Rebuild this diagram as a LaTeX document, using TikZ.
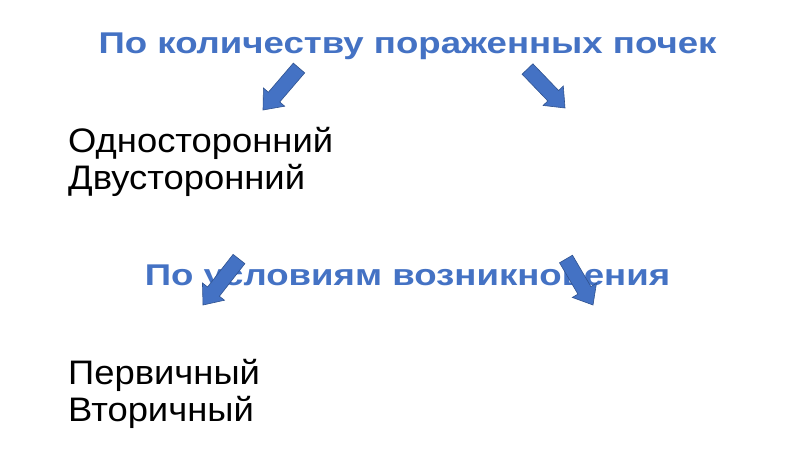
\documentclass[tikz,border=0pt]{standalone}
\usepackage{fontspec}
\setmainfont{Liberation Sans}
\newfontfamily\titlefont[FakeStretch=1.22]{Liberation Sans Bold}
\newfontfamily\bodyfont[FakeStretch=1.07]{Liberation Sans}
\usetikzlibrary{calc}
\definecolor{accent}{HTML}{4472C4}
\definecolor{accentdark}{HTML}{2F528F}
\tikzset{
  title/.style={text=accent, font=\titlefont\fontsize{30}{36}\selectfont, anchor=base, inner sep=0pt},
  body/.style={text=black, font=\bodyfont\fontsize{34}{37}\selectfont, anchor=base west, inner sep=0pt, align=left},
  blockarrow/.style={fill=accent, draw=accentdark, line width=0.6pt, line join=miter}
}
\newcommand{\barrow}[2]{%
  \coordinate (#2h) at ($(#2)!17pt!(#1)$);
  \coordinate (#1p) at ($(#1)!7.5pt!90:(#2)$);
  \coordinate (#1m) at ($(#1)!7.5pt!-90:(#2)$);
  \coordinate (#2hp) at ($(#2h)!7.5pt!-90:(#1)$);
  \coordinate (#2hm) at ($(#2h)!7.5pt!90:(#1)$);
  \coordinate (#2wp) at ($(#2h)!14pt!-90:(#1)$);
  \coordinate (#2wm) at ($(#2h)!14pt!90:(#1)$);
  \draw[blockarrow] (#1p) -- (#2hp) -- (#2wp) -- (#2) -- (#2wm) -- (#2hm) -- (#1m) -- cycle;}
\begin{document}
\begin{tikzpicture}[x=1pt,y=-1pt]
\useasboundingbox[fill=white] (0,0) rectangle (800,450);
\node[title] (t1) at (407.5,53) {По количеству пораженных почек};
\node[body] (b1) at (68,189) {Односторонний\\Двусторонний};
\node[title] (t2) at (407.5,285) {По условиям возникновения};
\node[body] (b2) at (68,421) {Первичный\\Вторичный};
\coordinate (a1s) at (299,68);
\coordinate (a1e) at (263,110);
\coordinate (a2s) at (527.5,69);
\coordinate (a2e) at (565,108);
\coordinate (a3s) at (239,259);
\coordinate (a3e) at (203,305);
\coordinate (a4s) at (566,259);
\coordinate (a4e) at (593,305);
\barrow{a1s}{a1e}
\barrow{a2s}{a2e}
\barrow{a3s}{a3e}
\barrow{a4s}{a4e}
\end{tikzpicture}
\end{document}
